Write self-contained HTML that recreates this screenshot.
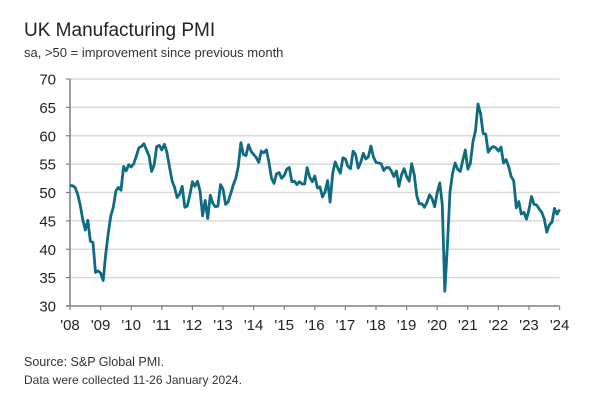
<!DOCTYPE html>
<html><head><meta charset="utf-8">
<style>
body{margin:0;background:#fff;}
svg{display:block;font-family:"Liberation Sans",sans-serif;}
</style></head>
<body>
<svg id="chart" width="600" height="404" viewBox="0 0 600 404">
<text x="24" y="36" font-size="19" fill="#222">UK Manufacturing PMI</text>
<text x="24" y="57" font-size="13" fill="#333">sa, &gt;50 = improvement since previous month</text>
<text x="24" y="366" font-size="12.5" fill="#333">Source: S&amp;P Global PMI.</text>
<text x="24" y="384" font-size="12" fill="#333">Data were collected 11-26 January 2024.</text>
<g id="grid"></g><g id="axes"></g><g id="series"></g>
</svg>
<script>
const yTicks=[30,35,40,45,50,55,60,65,70];
const xTickLabels=["'08","'09","'10","'11","'12","'13","'14","'15","'16","'17","'18","'19","'20","'21","'22","'23","'24"];
const startYear=2008;
const pmi=[
51.2,51.2,50.9,49.7,47.8,45.2,43.4,45.1,41.4,41.2,35.9,36.2,
35.8,34.5,39.1,42.9,45.9,47.4,50.3,50.9,50.4,54.6,53.8,54.9,
54.5,55.1,56.4,57.9,58.1,58.6,57.5,56.4,53.7,54.9,58.1,58.3,
57.5,58.5,57.1,54.6,52.1,50.9,49.1,49.7,51.1,47.4,47.6,49.6,
51.9,51.1,52.0,50.2,45.9,48.6,45.4,49.5,48.1,47.5,47.6,51.4,
50.6,47.9,48.3,49.8,51.3,52.5,54.6,58.8,56.7,56.5,58.4,57.3,
56.7,56.2,55.3,57.3,57.0,57.5,55.4,52.5,51.6,53.3,53.5,52.5,
53.0,54.1,54.4,51.9,52.0,51.4,51.9,51.5,51.5,54.4,52.7,51.9,
52.9,50.8,51.0,49.2,50.1,52.1,48.3,53.4,55.4,54.3,53.4,56.1,
55.9,54.6,54.2,57.3,56.7,54.3,55.3,56.9,55.9,56.3,58.2,56.3,
55.3,55.2,55.1,53.9,54.4,54.4,53.8,52.8,53.8,51.1,53.1,54.2,
52.8,52.0,55.1,53.1,49.4,48.0,48.0,47.4,48.3,49.6,48.9,47.5,
50.0,51.7,47.8,32.6,40.7,50.1,53.3,55.2,54.1,53.7,55.6,57.5,
54.1,55.1,58.9,60.9,65.6,63.9,60.4,60.3,57.1,57.8,58.1,57.9,
57.3,58.0,55.2,55.8,54.6,52.8,52.1,47.3,48.4,46.2,46.5,45.3,
47.0,49.3,47.9,47.8,47.1,46.5,45.3,43.0,44.3,44.8,47.2,46.2,
47.0];
const NS="http://www.w3.org/2000/svg";
const X0=70,X1=559.6,Y0=306,Y1=79;
const x=m=>X0+(X1-X0)*m/192;
const y=v=>Y0-(Y0-Y1)*(v-30)/40;
function mk(tag,attrs,parent){const e=document.createElementNS(NS,tag);for(const k in attrs)e.setAttribute(k,attrs[k]);parent.appendChild(e);return e;}
const grid=document.getElementById('grid'),axes=document.getElementById('axes'),ser=document.getElementById('series');
yTicks.forEach(v=>{
  if(v>30){const g=mk('line',{x1:X0,x2:X1,y1:y(v),y2:y(v),stroke:'#d9d9d9','stroke-width':1.5},grid);
  
  }
  const tm=mk('line',{x1:X0-4,x2:X0,y1:y(v),y2:y(v),stroke:'#7f7f7f','stroke-width':1.2},axes);
  
  
  const t=mk('text',{x:56,y:y(v)+5.5,'text-anchor':'end','font-size':15,fill:'#222'},axes);
  t.textContent=v;
  
  
});
const ya=mk('line',{x1:X0,x2:X0,y1:Y1,y2:Y0,stroke:'#7f7f7f','stroke-width':1.5},axes);


const xa=mk('line',{x1:X0-4,x2:X1,y1:Y0,y2:Y0,stroke:'#7f7f7f','stroke-width':1.5},axes);


xTickLabels.forEach((l,i)=>{
  const xx=x(i*12);
  const tm=mk('line',{x1:xx,x2:xx,y1:Y0,y2:Y0+4,stroke:'#7f7f7f','stroke-width':1.2},axes);
  
  
  const t=mk('text',{x:xx,y:Y0+24,'text-anchor':'middle','font-size':15,fill:'#222'},axes);
  t.textContent=l;
  
  
});
const p=mk('path',{d:pmi.map((v,i)=>(i?'L':'M')+x(i).toFixed(1)+','+y(v).toFixed(1)).join(''),fill:'none',stroke:'#0f6b80','stroke-width':2.8,'stroke-linejoin':'round'},ser);


</script>
</body></html>
